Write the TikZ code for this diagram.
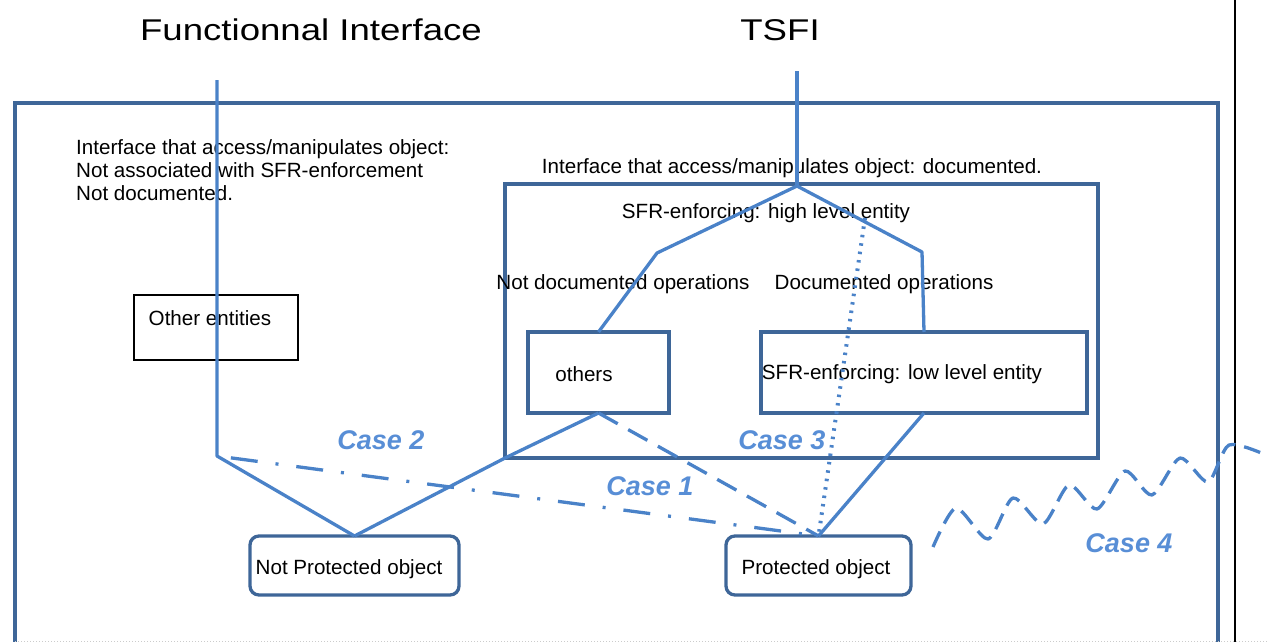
\documentclass[tikz,border=0pt]{standalone}
\usepackage{fontspec}
\setmainfont{Liberation Sans}
\newfontfamily\titlefont[FakeStretch=1.22]{Liberation Sans}
\usetikzlibrary{positioning}
\definecolor{boxblue}{RGB}{62,102,152}
\definecolor{linkblue}{RGB}{74,130,200}
\definecolor{caseblue}{RGB}{88,142,214}
\tikzset{
  txt/.style={inner sep=0pt,font=\fontsize{20.6}{23}\selectfont},
  title/.style={inner sep=0pt,font=\titlefont\fontsize{30}{36}\selectfont},
  casetxt/.style={inner sep=0pt,text=caseblue,font=\fontsize{27}{30}\selectfont\bfseries\itshape},
  bluebox/.style={draw=boxblue,line width=3.3pt,inner sep=0pt,outer sep=0pt},
  objbox/.style={bluebox,rounded corners=9pt},
  link/.style={draw=linkblue,line width=3.3pt,line join=round},
}
\begin{document}
\begin{tikzpicture}[x=1pt,y=-1pt]
\useasboundingbox (0,0) rectangle (1268,642);
% outer frame
\draw[boxblue,line width=3.3pt] (15,642) -- (15,103) -- (1218,103) -- (1218,642);
\draw[black,line width=2.5pt] (1235,0) -- (1235,642);
\draw[black!20,dotted,line width=1pt] (15,641) -- (1268,641);
% titles
\node[title] (fi) at (311,30) {Functionnal Interface};
\node[title] (tsfi) at (780,30) {TSFI};
% boxes
\node[bluebox,minimum width=593pt,minimum height=274pt] (docbox) at (801.5,321) {};
\node[draw=black,line width=2pt,inner sep=0pt,outer sep=0pt,minimum width=164pt,minimum height=65pt] (othbox) at (216,327.5) {};
\node[bluebox,minimum width=141pt,minimum height=81pt] (others) at (598.5,372.5) {};
\node[bluebox,minimum width=326pt,minimum height=81pt] (sfrlow) at (924,372.5) {};
\node[objbox,minimum width=209pt,minimum height=59pt] (notprot) at (354.5,565.5) {};
\node[objbox,minimum width=185pt,minimum height=59pt] (prot) at (818.5,565.5) {};
% texts
\node[txt,anchor=west,align=left] (fidesc) at (76,170) {Interface that access/manipulates object:\\Not associated with SFR-enforcement\\Not documented.};
\node[txt] (docdesc) at (792,168) {Interface that access/manipulates object: documented.};
\node[txt] (high) at (766,213) {SFR-enforcing: high level entity};
\node[txt] (notdoc) at (623,284) {Not documented operations};
\node[txt] (docops) at (884,284) {Documented operations};
\node[txt] (othtxt) at (210,318) {Other entities};
\node[txt] (othtxt2) at (584,374) {others};
\node[txt] (lowtxt) at (902,374) {SFR-enforcing: low level entity};
\node[txt] (nptxt) at (349,569) {Not Protected object};
\node[txt] (ptxt) at (816,569) {Protected object};
\node[casetxt] (case2) at (381,440) {Case 2};
\node[casetxt] (case3) at (782,440) {Case 3};
\node[casetxt] (case1) at (650,486) {Case 1};
\node[casetxt] (case4) at (1129,543) {Case 4};
% connectors
\coordinate (fitop) at (217,80);
\coordinate (ficorner) at (217,456);
\coordinate (tsfitop) at (797,71);
\coordinate (apex) at (797,186);
\coordinate (leftbend) at (657,253);
\coordinate (rightbend) at (922,252);
\coordinate (dotstart) at (865,218);
\draw[link] (fitop) -- (ficorner) -- (notprot.north);
\draw[link] (tsfitop) -- (apex);
\draw[link] (others.north) -- (leftbend) -- (apex) -- (rightbend) -- (sfrlow.north);
\draw[link] (others.south) -- (docbox.south west) -- (notprot.north);
\draw[link] (sfrlow.south) -- (prot.north);
\draw[link,dash pattern=on 22pt off 12pt] (others.south) -- (prot.north);
\draw[link,line width=4pt,dash pattern=on 2.5pt off 6pt] (dotstart) -- (prot.north);
\draw[link,shorten <=14pt,dash pattern=on 27pt off 18pt on 3pt off 18pt] (ficorner) -- (prot.north);
% case 4
\draw[link,dash pattern=on 17pt off 9pt] plot[smooth,tension=0.45] coordinates {(933,547) (956,508) (988,539) (1013,498) (1043,524) (1069,485) (1097,509) (1125,471) (1152,495) (1180,458) (1208,482) (1229,445) (1266,455)};
\end{tikzpicture}
\end{document}
